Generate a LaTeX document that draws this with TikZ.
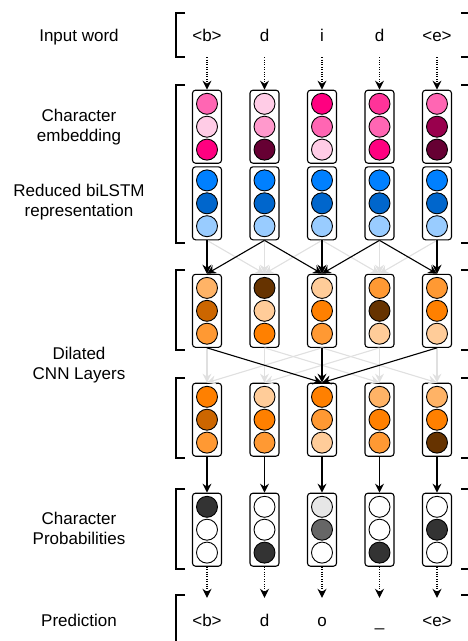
\documentclass[tikz,border=0pt]{standalone}
\usepackage{fontspec}
\setmainfont{Liberation Sans}
\usetikzlibrary{arrows.meta,positioning}
\def\cellsize{21pt}
\def\cellsep{1pt}
\def\colsep{57.5}
\def\firstcol{207}

\definecolor{pk1}{HTML}{FFCCE6}
\definecolor{pk2}{HTML}{FF99CC}
\definecolor{pk3}{HTML}{FF66B3}
\definecolor{pk4}{HTML}{FF3399}
\definecolor{pk5}{HTML}{FF0080}
\definecolor{pk6}{HTML}{99004D}
\definecolor{pk7}{HTML}{660033}
\definecolor{bl1}{HTML}{0080FF}
\definecolor{bl2}{HTML}{0066CC}
\definecolor{bl3}{HTML}{99CCFF}
\definecolor{or1}{HTML}{FFCC99}
\definecolor{or2}{HTML}{FFB366}
\definecolor{or3}{HTML}{FF9933}
\definecolor{or4}{HTML}{FF8000}
\definecolor{or5}{HTML}{CC6600}
\definecolor{or6}{HTML}{663300}
\definecolor{gy1}{HTML}{E6E6E6}
\definecolor{gy2}{HTML}{666666}
\definecolor{gy3}{HTML}{333333}

\begin{document}
\begin{tikzpicture}[x=1pt,y=-1pt,
    myarrow/.style={-{Stealth[length=9pt,width=9pt,inset=3pt]},line width=1.1pt,draw=black},
    dotarrow/.style={myarrow,dash pattern=on 1pt off 1.4pt},
    ghost/.style={-{Stealth[length=9pt,width=9pt,inset=3pt]},line width=1.1pt,draw=black!12,fill=black!12},
    brc/.style={line width=2.2pt,black}]
    \fontsize{17}{20}\selectfont
    \tikzstyle{cell}=[circle,draw=black,line width=0.9pt,minimum size=\cellsize,inner sep=0pt]
    \tikzstyle{stack}=[draw=black,fill=white,rounded corners=3pt,line width=1.1pt,minimum width=29pt,minimum height=73pt]
    \tikzstyle{word}=[minimum height=44pt,inner sep=0pt,text height=12.2pt,text depth=0pt]
    \tikzstyle{annot}=[align=center,inner sep=0pt]

    \useasboundingbox (0,0) rectangle (467,641);

    % Brackets around the rows
    \foreach \t/\b in {13/57, 85/243, 270/350, 378/458, 489/569, 595/660} {
        \draw[brc] (185,\t) -- (176,\t) -- (176,\b) -- (185,\b);
        \draw[brc] (461,\t) -- (470,\t) -- (470,\b) -- (461,\b);
    }

    % Input word and prediction
    \foreach \w [count=\i] in {<b>,d,i,d,<e>}
        \node[word] (I-\i) at ({\firstcol+(\i-1)*\colsep},35) {\w};
    \foreach \w [count=\i] in {<b>,d,o,\_,<e>}
        \node[word] (O-\i) at ({\firstcol+(\i-1)*\colsep},620) {\w};

    % Draw the stacks of every layer
    \foreach \name/\y in {E/126.7, L/203.3, C1/310.8, C2/419.7, P/529.7}
        \foreach \i in {1,...,5}
            \node[stack] (\name-\i) at ({\firstcol+(\i-1)*\colsep},\y) {};

    % Fill the stacks with cells
    \foreach \name/\i/\a/\b/\c in {
        E/1/pk3/pk1/pk5, E/2/pk1/pk2/pk7, E/3/pk5/pk3/pk1, E/4/pk4/pk3/pk5, E/5/pk3/pk6/pk7,
        L/1/bl1/bl2/bl3, L/2/bl1/bl2/bl3, L/3/bl1/bl2/bl3, L/4/bl1/bl2/bl3, L/5/bl1/bl2/bl3,
        C1/1/or2/or5/or3, C1/2/or6/or1/or4, C1/3/or1/or4/or3, C1/4/or3/or6/or1, C1/5/or3/or4/or1,
        C2/1/or4/or5/or3, C2/2/or1/or4/or3, C2/3/or4/or3/or1, C2/4/or2/or4/or3, C2/5/or2/or4/or6,
        P/1/gy3/white/white, P/2/white/white/gy3, P/3/gy1/gy2/white, P/4/white/white/gy3, P/5/white/gy3/white} {
        \node[cell,fill=\b] (\name-\i-2) at (\name-\i) {};
        \node[cell,fill=\a,above=\cellsep of \name-\i-2] (\name-\i-1) {};
        \node[cell,fill=\c,below=\cellsep of \name-\i-2] (\name-\i-3) {};
    }

    % Connect the layers
    \foreach \i in {1,...,5} {
        \draw[dotarrow] (I-\i) -- (E-\i);
        \draw[myarrow] (C2-\i) -- (P-\i);
        \draw[dotarrow] (P-\i) -- (O-\i);
    }
    \foreach \s/\d in {1/2, 2/2, 3/2, 3/4, 4/4, 5/4}
        \draw[ghost] (L-\s.south) -- (C1-\d.north);
    \foreach \s/\d in {1/1, 3/1, 2/2, 4/2, 2/4, 4/4, 3/5, 5/5}
        \draw[ghost] (C1-\s.south) -- (C2-\d.north);
    \foreach \s/\d in {1/1, 2/1, 2/3, 3/3, 4/3, 4/5, 5/5}
        \draw[myarrow] (L-\s.south) -- (C1-\d.north);
    \foreach \s in {1,3,5}
        \draw[myarrow] (C1-\s.south) -- (C2-3.north);

    % Annotate the layers
    \node[word] (in-lab) at (79,35) {Input word};
    \node[annot] (emb-lab) at (79,127) {Character\\embedding};
    \node[annot] (lstm-lab) at (79,202) {Reduced biLSTM\\representation};
    \node[annot] (cnn-lab) at (79,365) {Dilated\\CNN Layers};
    \node[annot] (prob-lab) at (79,528) {Character\\Probabilities};
    \node[word] (out-lab) at (79,620) {Prediction};
\end{tikzpicture}
\end{document}
